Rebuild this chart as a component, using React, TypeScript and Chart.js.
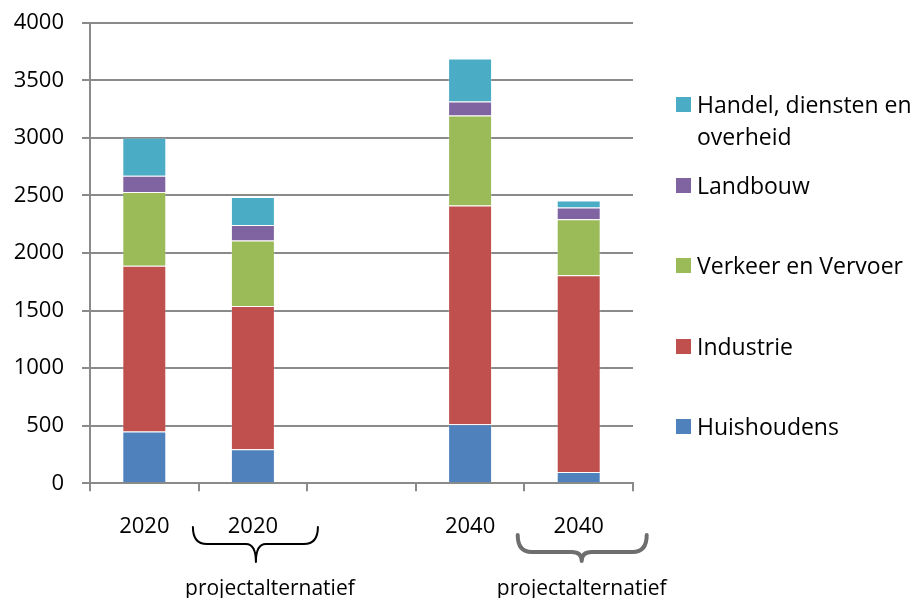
import React, { useEffect, useRef } from "react";
import { Chart, registerables } from "chart.js";

Chart.register(...registerables);

const categories = ["2020", "2020", "", "2040", "2040"];
const huishoudens = [450, 295, null, 513, 98];
const industrie = [1440, 1245, null, 1899, 1709];
const verkeer = [640, 568, null, 782, 487];
const landbouw = [140, 136, null, 122, 101];
const handel = [330, 243, null, 373, 60];
const yMax = 4000;
const yStep = 500;
const groupLabel = "projectalternatief";
const annotatedCategories = [1, 4];

const seriesNames = [
  "Huishoudens",
  "Industrie",
  "Verkeer en Vervoer",
  "Landbouw",
  "Handel, diensten en overheid",
];
const seriesColors = ["#4F81BD", "#C0504D", "#9BBB59", "#8064A2", "#4BACC6"];
const seriesValues = [huishoudens, industrie, verkeer, landbouw, handel];

const FONT = "'Open Sans', 'DejaVu Sans', sans-serif";
const W = 917;
const H = 598;

function drawBrace(
  ctx: CanvasRenderingContext2D,
  x0: number,
  x1: number,
  xc: number,
  top: number,
  mid: number,
  tip: number,
  color: string,
  lw: number
) {
  const r = 14;
  const r2 = 10;
  ctx.save();
  ctx.strokeStyle = color;
  ctx.lineWidth = lw;
  ctx.lineJoin = "round";
  ctx.lineCap = "round";
  ctx.beginPath();
  ctx.moveTo(x0, top);
  ctx.quadraticCurveTo(x0, mid, x0 + r, mid);
  ctx.lineTo(xc - r2, mid);
  ctx.quadraticCurveTo(xc, mid, xc, tip);
  ctx.quadraticCurveTo(xc, mid, xc + r2, mid);
  ctx.lineTo(x1 - r, mid);
  ctx.quadraticCurveTo(x1, mid, x1, top);
  ctx.stroke();
  ctx.restore();
}

const bracePlugin = {
  id: "braces",
  afterDraw(chart: any) {
    const ctx = chart.ctx as CanvasRenderingContext2D;
    const xs = chart.scales.x;
    const styles = [
      { l: -60, r: 65, c: 3, top: 527, mid: 544, tip: 562, color: "#000000", lw: 2, tx: 17 },
      { l: -61, r: 68, c: 3, top: 535, mid: 552, tip: 561, color: "#6e6e6e", lw: 4, tx: 3 },
    ];
    annotatedCategories.forEach((idx, i) => {
      const cx = xs.getPixelForValue(idx);
      const s = styles[i];
      drawBrace(ctx, cx + s.l, cx + s.r, cx + s.c, s.top, s.mid, s.tip, s.color, s.lw);
      ctx.save();
      ctx.fillStyle = "#000";
      ctx.font = `21px ${FONT}`;
      ctx.textAlign = "center";
      ctx.textBaseline = "alphabetic";
      ctx.fillText(groupLabel, cx + s.tx, 595);
      ctx.restore();
    });
  },
};

export default function App() {
  const ref = useRef<HTMLCanvasElement | null>(null);

  useEffect(() => {
    if (!ref.current) return;
    const chart = new Chart(ref.current, {
      type: "bar",
      data: {
        labels: categories,
        datasets: seriesNames.map((name, i) => ({
          label: name,
          data: seriesValues[i] as any,
          backgroundColor: seriesColors[i],
          borderColor: "rgba(255,255,255,0.2)",
          borderWidth: 1,
          barPercentage: 0.405,
          categoryPercentage: 1,
        })),
      },
      options: {
        responsive: false,
        animation: false,
        devicePixelRatio: 1,
        layout: { padding: { top: 22.7, right: W - 633, bottom: 0, left: 0 } },
        plugins: {
          legend: { display: false },
          tooltip: { enabled: false },
        },
        scales: {
          x: {
            stacked: true,
            grid: {
              display: true,
              drawOnChartArea: false,
              drawTicks: true,
              tickLength: 8,
              color: "#8a8a8a",
              lineWidth: 2,
              offset: true,
            },
            border: { display: true, color: "#8a8a8a", width: 2 },
            ticks: {
              color: "#000",
              font: { family: FONT, size: 22 },
              padding: 22,
              maxRotation: 0,
              autoSkip: false,
            },
            afterFit: (s: any) => {
              s.height = H - 483.3;
              s.paddingLeft = 0;
              s.paddingRight = 0;
            },
          },
          y: {
            stacked: true,
            min: 0,
            max: yMax,
            ticks: {
              stepSize: yStep,
              color: "#000",
              font: { family: FONT, size: 22 },
              padding: 18,
              callback: (v: any) => String(v),
            },
            grid: {
              color: "#8a8a8a",
              lineWidth: 2,
              tickLength: 8,
            },
            border: { display: true, color: "#8a8a8a", width: 2 },
            afterFit: (s: any) => {
              s.width = 90;
              s.paddingTop = 0;
              s.paddingBottom = 0;
            },
          },
        },
      },
      plugins: [bracePlugin],
    });
    return () => chart.destroy();
  }, []);

  const legendOrder = [4, 3, 2, 1, 0];

  return (
    <div
      style={{
        position: "absolute",
        left: 0,
        top: 0,
        width: W,
        height: H,
        background: "#fff",
        overflow: "hidden",
      }}
    >
      <canvas ref={ref} width={W} height={H} style={{ width: W, height: H, display: "block" }} />
      {legendOrder.map((si, i) => (
        <div
          key={si}
          style={{
            position: "absolute",
            left: 676,
            top: 104 + 80.5 * i - 16,
            display: "flex",
            alignItems: "flex-start",
            fontFamily: FONT,
            fontSize: 23,
            lineHeight: "32px",
            color: "#000",
          }}
        >
          <div
            style={{
              width: 15,
              height: 15,
              marginTop: 9,
              marginRight: 6,
              background: seriesColors[si],
              flex: "none",
            }}
          />
          <div style={{ width: W - 697 }}>{seriesNames[si]}</div>
        </div>
      ))}
    </div>
  );
}
